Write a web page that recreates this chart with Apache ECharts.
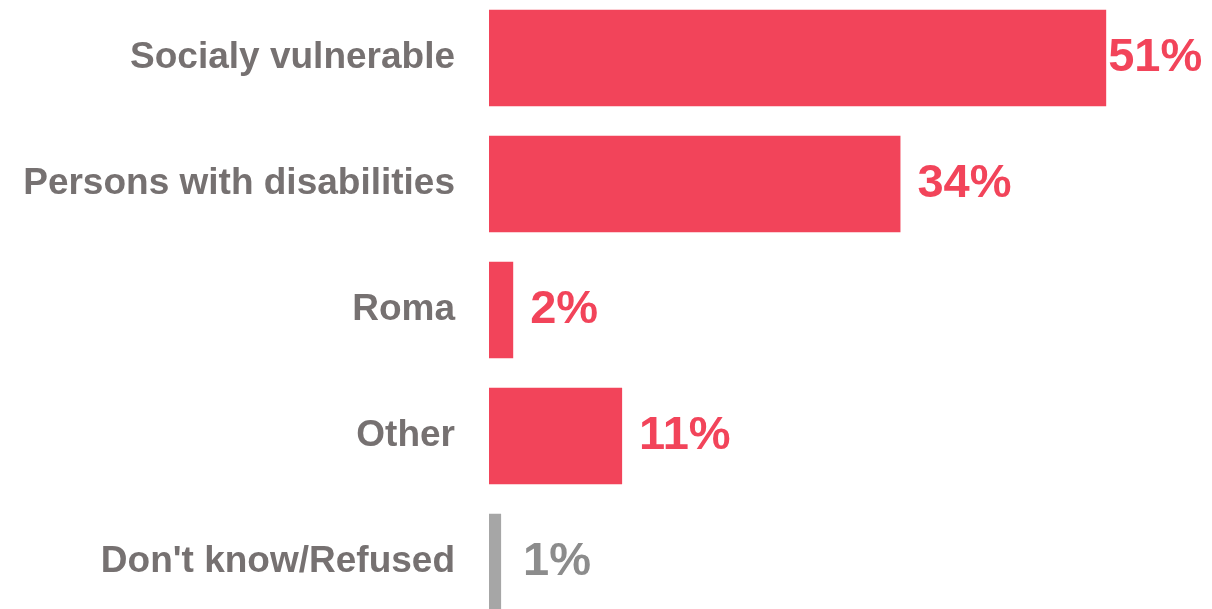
<!DOCTYPE html>
<html>
<head>
<meta charset="utf-8">
<title>Groups</title>
<script src="https://cdn.jsdelivr.net/npm/echarts@6/dist/echarts.min.js"></script>
<style>
  html, body { margin: 0; padding: 0; background: #ffffff; }
  #chart { width: 1212px; height: 609px; }
</style>
</head>
<body>
<div id="chart"></div>
<script>
// Groups, top to bottom
const categories = [
  'Socialy vulnerable',
  'Persons with disabilities',
  'Roma',
  'Other',
  "Don't know/Refused"
];
// Share of respondents, %
const values = [51, 34, 2, 11, 1];
// The last group is drawn in neutral grey
const isNeutral = [false, false, false, false, true];

const RED = '#F2445A';
const GREY_BAR = '#A6A6A6';
const GREY_TEXT = '#767171';
const GREY_VALUE = '#8C8C8C';
const FONT = '"Liberation Sans", Arial, sans-serif';

// gap between bar end and its value label
const labelGap = [2, 17, 17, 17, 22];

const seriesData = values.map((v, i) => ({
  value: v,
  itemStyle: { color: isNeutral[i] ? GREY_BAR : RED },
  label: {
    color: isNeutral[i] ? GREY_VALUE : RED,
    distance: labelGap[i]
  }
}));

const chart = echarts.init(document.getElementById('chart'), null, { renderer: 'canvas' });
chart.setOption({
  animation: false,
  backgroundColor: '#ffffff',
  grid: {
    left: 489,
    width: 714,
    top: -5,
    height: 630,
    containLabel: false,
    outerBoundsMode: 'none'
  },
  xAxis: {
    type: 'value',
    min: 0,
    max: 59,
    show: false
  },
  yAxis: {
    type: 'category',
    data: categories,
    inverse: true,
    axisLine: { show: false },
    axisTick: { show: false },
    splitLine: { show: false },
    axisLabel: {
      margin: 34,
      color: GREY_TEXT,
      fontFamily: FONT,
      fontWeight: 'bold',
      fontSize: 37
    }
  },
  series: [{
    type: 'bar',
    data: seriesData,
    barCategoryGap: '23.4%',
    label: {
      show: true,
      position: 'right',
      formatter: '{c}%',
      fontFamily: FONT,
      fontWeight: 'bold',
      fontSize: 47
    }
  }]
});
</script>
</body>
</html>
